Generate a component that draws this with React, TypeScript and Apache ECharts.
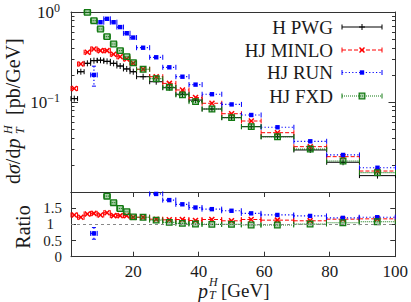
import React, { useEffect, useRef } from 'react';
import * as echarts from 'echarts';

// ---- data ----
const binEdges = [1, 3, 5, 7, 9, 11, 13, 15, 17, 19, 21, 25, 29, 33, 37, 41, 47, 53, 59, 69, 79, 89, 100];

const hPwg = [0.109, 0.217, 0.269, 0.288, 0.291, 0.283, 0.269, 0.251, 0.233, 0.217, 0.191, 0.168, 0.144, 0.122, 0.105, 0.0836, 0.067, 0.0532, 0.0411, 0.0293, 0.0214, 0.0152];
const hjMinlo = [0.141, 0.264, 0.357, 0.388, 0.372, 0.372, 0.339, 0.318, 0.301, 0.269, 0.231, 0.191, 0.161, 0.136, 0.112, 0.0968, 0.0741, 0.0615, 0.0456, 0.0319, 0.0247, 0.0171];
const hjRun = [null, null, null, 0.2, 0.77, 0.84, 0.77, 0.68, 0.58, 0.52, 0.401, 0.314, 0.243, 0.191, 0.156, 0.122, 0.094, 0.0717, 0.0524, 0.0366, 0.0258, 0.0186];
const hjRunErr = [0, 0, 0, 0.05, 0, 0, 0, 0, 0, 0, 0, 0, 0, 0, 0, 0, 0, 0, 0, 0, 0, 0];
const hjFxd = [null, null, 0.99, 0.8, 0.647, 0.532, 0.441, 0.372, 0.319, 0.273, 0.231, 0.182, 0.146, 0.12, 0.101, 0.0836, 0.067, 0.0532, 0.0411, 0.03, 0.0221, 0.0164];

const ratioMinlo = [1.29, 1.22, 1.32, 1.34, 1.29, 1.36, 1.27, 1.27, 1.27, 1.22, 1.22, 1.16, 1.14, 1.15, 1.12, 1.15, 1.11, 1.15, 1.13, 1.11, 1.16, 1.17];
const ratioRun = [null, null, null, 0.72, null, null, null, null, null, null, null, 1.94, 1.75, 1.62, 1.52, 1.47, 1.42, 1.34, 1.29, 1.26, 1.2, 1.22];
const ratioRunErr = [0, 0, 0, 0.18, 0, 0, 0, 0, 0, 0, 0, 0, 0, 0, 0, 0, 0, 0, 0, 0, 0, 0];
const ratioFxd = [null, null, null, null, null, 1.87, 1.67, 1.49, 1.39, 1.23, 1.22, 1.13, 1.06, 1.03, 1.01, 1.0, 1.0, 0.98, 0.98, 1.01, 1.05, 1.08];

const xTicks = [20, 40, 60, 80, 100];
const logMinorValues = [0.02, 0.03, 0.04, 0.05, 0.06, 0.07, 0.08, 0.09, 0.2, 0.3, 0.4, 0.5, 0.6, 0.7, 0.8, 0.9];
const ratioLabels = [0, 0.5, 1, 1.5];
const legendNames = ['H PWG', 'HJ MINLO', 'HJ RUN', 'HJ FXD'];

// ---- styles ----
const FONT = "'Liberation Serif', 'DejaVu Serif', serif";
const TEXT = '#1a1a1a';
const FRAME = '#333';

type St = { color: string; dash: number[] | null; width: number; marker: string };
const STYLES: St[] = [
  { color: '#000000', dash: null, width: 1, marker: 'plus' },
  { color: '#ff0000', dash: [4, 2], width: 1, marker: 'cross' },
  { color: '#0000ff', dash: [1.2, 2.2], width: 1.2, marker: 'fsquare' },
  { color: '#137a13', dash: [1, 1], width: 1.2, marker: 'osquare' },
];

function ln(x1: number, y1: number, x2: number, y2: number, st: St, dash: number[] | null, w?: number) {
  return {
    type: 'line',
    silent: true,
    shape: { x1, y1, x2, y2 },
    style: { stroke: st.color, lineWidth: w ?? st.width, lineDash: dash || undefined, fill: null },
  };
}

function markerShapes(cx: number, cy: number, st: St): any[] {
  if (st.marker === 'plus') {
    return [ln(cx - 3, cy, cx + 3, cy, st, null), ln(cx, cy - 3, cx, cy + 3, st, null)];
  }
  if (st.marker === 'cross') {
    return [
      ln(cx - 2.5, cy - 2.5, cx + 2.5, cy + 2.5, st, null, 1.5),
      ln(cx - 2.5, cy + 2.5, cx + 2.5, cy - 2.5, st, null, 1.5),
    ];
  }
  if (st.marker === 'fsquare') {
    return [{ type: 'rect', silent: true, shape: { x: cx - 2.2, y: cy - 2.2, width: 4.4, height: 4.4 }, style: { fill: st.color } }];
  }
  return [{
    type: 'rect', silent: true,
    shape: { x: cx - 2.8, y: cy - 2.8, width: 5.6, height: 5.6 },
    style: { fill: 'rgba(19,122,19,0.35)', stroke: st.color, lineWidth: 1.3 },
  }];
}

function binShapes(x0: number, x1: number, y: number, st: St, eTop?: number, eBot?: number): any[] {
  const cx = (x0 + x1) / 2;
  const out: any[] = [
    ln(x0, y, x1, y, st, st.dash),
    ln(x0, y - 2.5, x0, y + 2.5, st, null, 1),
    ln(x1, y - 2.5, x1, y + 2.5, st, null, 1),
  ];
  if (eTop != null && eBot != null && Math.abs(eBot - eTop) > 0.5) {
    out.push(ln(cx, eTop, cx, eBot, st, st.dash));
    out.push(ln(cx - 2, eTop, cx + 2, eTop, st, null, 1));
    out.push(ln(cx - 2, eBot, cx + 2, eBot, st, null, 1));
  }
  return out.concat(markerShapes(cx, y, st));
}

function makeData(vals: (number | null)[], errs?: number[]) {
  const out: number[][] = [];
  vals.forEach((v, i) => {
    if (v == null) return;
    out.push([binEdges[i], binEdges[i + 1], v, errs ? errs[i] : 0]);
  });
  return out;
}

function makeRender(st: St) {
  return (params: any, api: any) => {
    const lo = api.value(0);
    const hi = api.value(1);
    const v = api.value(2);
    const e = api.value(3);
    const a = api.coord([lo, v]);
    const b = api.coord([hi, v]);
    let eTop: number | undefined;
    let eBot: number | undefined;
    if (e > 0) {
      eTop = api.coord([lo, v + e])[1];
      eBot = api.coord([lo, v - e])[1];
    }
    return { type: 'group', children: binShapes(a[0], b[0], a[1], st, eTop, eBot) };
  };
}

function customSeries(name: string, vals: (number | null)[], st: St, xi: number, yi: number, errs?: number[], extra?: any) {
  return {
    type: 'custom',
    name,
    xAxisIndex: xi,
    yAxisIndex: yi,
    data: makeData(vals, errs),
    encode: { x: [0, 1], y: 2 },
    renderItem: makeRender(st),
    silent: true,
    clip: false,
    ...(extra || {}),
  };
}

const tickLine = { color: FRAME, width: 1 };
const labelBase = { color: TEXT, fontFamily: FONT, fontSize: 17 };

export default function App() {
  const ref = useRef<HTMLDivElement>(null);
  useEffect(() => {
    if (!ref.current) return;
    const chart = echarts.init(ref.current, undefined, { renderer: 'svg' });

    const rowY = [27, 50, 72.5, 96];
    const legendEls: any[] = [];
    legendNames.forEach((n, i) => {
      legendEls.push({
        type: 'text', x: 333, y: rowY[i], silent: true,
        style: { text: n, fill: TEXT, font: `19px ${FONT}`, align: 'right', verticalAlign: 'middle' },
      });
      legendEls.push({ type: 'group', silent: true, children: binShapes(342, 382, rowY[i], STYLES[i]) });
    });

    const titleFont = `20px ${FONT}`;
    const italic = `italic 20px ${FONT}`;
    const small = `italic 12px ${FONT}`;

    const graphic: any[] = [
      ...legendEls,
      {
        type: 'group', x: 13, y: 110, rotation: Math.PI / 2, silent: true,
        children: [
          {
            type: 'text', x: -74, y: 0,
            style: {
              text: '{u|d}{i|σ}{u|/d}{i|p}', fill: TEXT, align: 'left', verticalAlign: 'middle',
              rich: {
                u: { font: titleFont, fill: TEXT },
                i: { font: italic, fill: TEXT },
              },
            },
          },
          { type: 'text', x: -24, y: -5.5, style: { text: 'H', font: small, fill: TEXT, align: 'left', verticalAlign: 'middle' } },
          { type: 'text', x: -24, y: 7, style: { text: 'T', font: small, fill: TEXT, align: 'left', verticalAlign: 'middle' } },
          { type: 'text', x: -5, y: 0, style: { text: '[pb/GeV]', font: titleFont, fill: TEXT, align: 'left', verticalAlign: 'middle' } },
        ],
      },
      {
        type: 'group', x: 23, y: 227, rotation: Math.PI / 2, silent: true,
        children: [
          { type: 'text', x: 0, y: 0, style: { text: 'Ratio', font: titleFont, fill: TEXT, align: 'center', verticalAlign: 'middle' } },
        ],
      },
      { type: 'text', x: 198, y: 291, silent: true, style: { text: 'p', font: italic, fill: TEXT, align: 'left', verticalAlign: 'middle' } },
      { type: 'text', x: 209, y: 282, silent: true, style: { text: 'H', font: small, fill: TEXT, align: 'left', verticalAlign: 'middle' } },
      { type: 'text', x: 209, y: 295, silent: true, style: { text: 'T', font: small, fill: TEXT, align: 'left', verticalAlign: 'middle' } },
      { type: 'text', x: 221, y: 290, silent: true, style: { text: '[GeV]', font: `19px ${FONT}`, fill: TEXT, align: 'left', verticalAlign: 'middle', lineHeight: 17 } },
    ];

    const hidden = { show: false };
    const xBase = (grid: number, pos: string) => ({
      type: 'value', gridIndex: grid, position: pos, min: 1, max: 100,
      axisLine: { show: true, onZero: false, lineStyle: tickLine },
      splitLine: hidden,
    });

    const option: any = {
      animation: false,
      backgroundColor: '#fff',
      grid: [
        { left: 71, right: 15.5, top: 12, height: 180, containLabel: false },
        { left: 71, right: 15.5, top: 192, height: 64.7, containLabel: false },
      ],
      xAxis: [
        { ...xBase(0, 'bottom'), axisTick: hidden, axisLabel: hidden },
        { ...xBase(0, 'top'), axisTick: hidden, axisLabel: hidden },
        {
          ...xBase(1, 'bottom'),
          axisTick: { show: true, inside: true, length: 5, customValues: xTicks, lineStyle: tickLine },
          axisLabel: { show: true, customValues: xTicks, margin: 8, ...labelBase, lineHeight: 14 },
        },
        {
          ...xBase(1, 'top'),
          axisTick: { show: true, inside: true, length: 5, customValues: xTicks, lineStyle: tickLine },
          axisLabel: hidden,
        },
      ],
      yAxis: [
        {
          type: 'log', logBase: 10, gridIndex: 0, position: 'left', min: 0.01, max: 1,
          axisLine: { show: true, onZero: false, lineStyle: tickLine },
          axisTick: { show: true, inside: true, length: 7, lineStyle: tickLine },
          splitLine: hidden,
          axisLabel: {
            show: true, margin: 11, ...labelBase,
            formatter: (v: number) => {
              if (Math.abs(v - 1) < 1e-9) return '{b|10}{s|0}';
              if (Math.abs(v - 0.1) < 1e-9) return '{b|10}{s|−1}';
              return '';
            },
            rich: {
              b: { fontSize: 17, fontFamily: FONT, color: TEXT },
              s: { fontSize: 12, fontFamily: FONT, color: TEXT, padding: [0, 0, 9, 0] },
            },
          },
        },
        {
          type: 'value', gridIndex: 0, position: 'left', min: -2, max: 0,
          axisLine: hidden, splitLine: hidden, axisLabel: hidden,
          axisTick: { show: true, inside: true, length: 3.5, customValues: logMinorValues.map((v) => Math.log10(v)), lineStyle: tickLine },
        },
        {
          type: 'log', logBase: 10, gridIndex: 0, position: 'right', min: 0.01, max: 1,
          axisLine: { show: true, onZero: false, lineStyle: tickLine },
          axisTick: { show: true, inside: true, length: 7, lineStyle: tickLine },
          splitLine: hidden, axisLabel: hidden,
        },
        {
          type: 'value', gridIndex: 0, position: 'right', min: -2, max: 0,
          axisLine: hidden, splitLine: hidden, axisLabel: hidden,
          axisTick: { show: true, inside: true, length: 3.5, customValues: logMinorValues.map((v) => Math.log10(v)), lineStyle: tickLine },
        },
        {
          type: 'value', gridIndex: 1, position: 'left', min: 0, max: 2, interval: 0.5,
          axisLine: { show: true, onZero: false, lineStyle: tickLine },
          axisTick: { show: true, inside: true, length: 5, lineStyle: tickLine },
          splitLine: hidden,
          axisLabel: {
            show: true, margin: 9, color: TEXT, fontFamily: FONT, fontSize: 15, lineHeight: 12,
            customValues: ratioLabels, showMinLabel: true, showMaxLabel: true, hideOverlap: false,
            formatter: (v: number) => (v === 1 ? '{p|1}' : String(v)),
            rich: { p: { fontSize: 15, fontFamily: FONT, color: TEXT, lineHeight: 12, padding: [0, 8, 0, 0] } },
          },
        },
        {
          type: 'value', gridIndex: 1, position: 'right', min: 0, max: 2, interval: 0.5,
          axisLine: { show: true, onZero: false, lineStyle: tickLine },
          axisTick: { show: true, inside: true, length: 5, lineStyle: tickLine },
          splitLine: hidden, axisLabel: hidden,
        },
      ],
      graphic,
      series: [
        customSeries('H PWG', hPwg, STYLES[0], 0, 0),
        customSeries('HJ MINLO', hjMinlo, STYLES[1], 0, 0),
        customSeries('HJ RUN', hjRun, STYLES[2], 0, 0, hjRunErr),
        customSeries('HJ FXD', hjFxd, STYLES[3], 0, 0),
        customSeries('HJ MINLO ratio', ratioMinlo, STYLES[1], 2, 4, undefined, {
          markLine: {
            silent: true, symbol: ['none', 'none'], label: { show: false },
            lineStyle: { color: '#888', type: [3, 3], width: 1 },
            data: [{ yAxis: 1 }],
          },
        }),
        customSeries('HJ RUN ratio', ratioRun, STYLES[2], 2, 4, ratioRunErr),
        customSeries('HJ FXD ratio', ratioFxd, STYLES[3], 2, 4),
      ],
    };
    chart.setOption(option);
    return () => chart.dispose();
  }, []);

  return <div ref={ref} style={{ position: 'fixed', left: 0, top: 0, width: 411, height: 302, background: '#fff' }} />;
}
